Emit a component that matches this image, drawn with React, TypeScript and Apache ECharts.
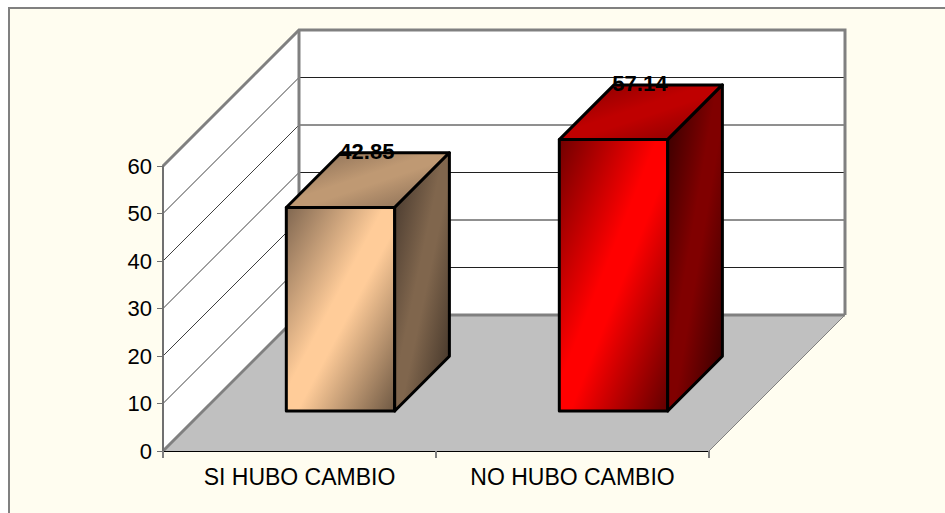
import React, { useEffect, useRef } from "react";
import * as echarts from "echarts";

const categories = ["SI HUBO CAMBIO", "NO HUBO CAMBIO"];
const percentages = [42.85, 57.14];
const valueTicks = [0, 10, 20, 30, 40, 50, 60];

// Light, mid and dark shades per bar
const barShades = [
  { front: ["#7F6650", "#FFCC99", "#FFCC99", "#6E5843"], top: ["#806650", "#BF9973", "#BF9973", "#806650"], side: ["#40332A", "#80664D", "#80664D", "#3A2E24"] },
  { front: ["#700000", "#FF0000", "#FF0000", "#600000"], top: ["#800000", "#BF0000", "#BF0000", "#800000"], side: ["#300000", "#800000", "#800000", "#300000"] },
];

const WALL_DEPTH = 136;
const BAR_INSET = 40;
const BAR_NUDGE_X = 1;
const BAR_DEPTH = 54.7;
const BAR_RATIO = 0.397;

const ramp = (c: string[]) => ({
  type: "linear",
  x: 0,
  y: 0,
  x2: 1,
  y2: 1,
  colorStops: [
    { offset: 0, color: c[0] },
    { offset: 0.45, color: c[1] },
    { offset: 0.55, color: c[2] },
    { offset: 1, color: c[3] },
  ],
});

// Walls, floor and gridlines of the 3D box, placed from the value scale
function renderBox(params: any, api: any) {
  const g = params.coordSys;
  const d = WALL_DEPTH;
  const left = g.x;
  const right = g.x + g.width;
  const top = g.y;
  const bottom = g.y + g.height;
  const wallStroke = { stroke: "#808080", lineWidth: 3 };
  const children: any[] = [
    { type: "polygon", shape: { points: [[left + d, top - d], [right + d, top - d], [right + d, bottom - d], [left + d, bottom - d]] }, style: { fill: "#FFFFFF" } },
    { type: "polygon", shape: { points: [[left, top], [left + d, top - d], [left + d, bottom - d], [left, bottom]] }, style: { fill: "#FFFFFF" } },
    { type: "polygon", shape: { points: [[left, bottom], [left + d, bottom - d], [right + d, bottom - d], [right, bottom]] }, style: { fill: "#C0C0C0" } },
  ];
  valueTicks.forEach((t) => {
    if (t === 0 || t === valueTicks[valueTicks.length - 1]) return;
    const y = api.coord([0, t])[1];
    children.push(
      { type: "line", shape: { x1: left, y1: y, x2: left + d, y2: y - d }, style: { stroke: "#404040", lineWidth: 1 } },
      { type: "line", shape: { x1: left + d, y1: y - d, x2: right + d, y2: y - d }, style: { stroke: "#202020", lineWidth: 1 } },
    );
  });
  children.push(
    { type: "polyline", shape: { points: [[left, top], [left + d, top - d], [right + d, top - d], [right + d, bottom - d]] }, style: { ...wallStroke, fill: "none" } },
    { type: "line", shape: { x1: left + d, y1: top - d, x2: left + d, y2: bottom - d }, style: wallStroke },
    { type: "line", shape: { x1: left + d, y1: bottom - d, x2: right + d, y2: bottom - d }, style: wallStroke },
    { type: "line", shape: { x1: left, y1: bottom, x2: left + d, y2: bottom - d }, style: wallStroke },
    { type: "line", shape: { x1: right, y1: bottom, x2: right + d, y2: bottom - d }, style: { stroke: "#808080", lineWidth: 1 } },
  );
  return { type: "group", children };
}

// One extruded bar: front, top and side faces plus its value label
function renderBar(params: any, api: any) {
  const idx = api.value(0);
  const value = api.value(1);
  const shades = barShades[params.dataIndex];
  const [cx, y1] = api.coord([idx, value]);
  const [, y0] = api.coord([idx, 0]);
  const w = api.size([1, 0])[0] * BAR_RATIO;
  const x = cx - w / 2 + BAR_INSET + BAR_NUDGE_X;
  const yT = y1 - BAR_INSET;
  const yB = y0 - BAR_INSET;
  const d = BAR_DEPTH;
  const edge = { stroke: "#000000", lineWidth: 3, lineJoin: "round" };
  return {
    type: "group",
    children: [
      { type: "polygon", shape: { points: [[x, yT], [x + w, yT], [x + w, yB], [x, yB]] }, style: { ...edge, fill: ramp(shades.front) } },
      { type: "polygon", shape: { points: [[x, yT], [x + d, yT - d], [x + w + d, yT - d], [x + w, yT]] }, style: { ...edge, fill: ramp(shades.top) } },
      { type: "polygon", shape: { points: [[x + w, yT], [x + w + d, yT - d], [x + w + d, yB - d], [x + w, yB]] }, style: { ...edge, fill: ramp(shades.side) } },
      { type: "text", style: { x: x + w / 2 + d / 2 - 1, y: yT - d - 1, text: value.toFixed(2), fill: "#000000", font: 'bold 22px "Liberation Sans"', align: "center", verticalAlign: "middle" } },
    ],
  };
}

export default function App() {
  const ref = useRef<HTMLDivElement>(null);

  useEffect(() => {
    const chart = echarts.init(ref.current!, null, { renderer: "svg" });
    chart.setOption({
      animation: false,
      backgroundColor: "#FFFFFF",
      graphic: [
        { type: "rect", z: -10, shape: { x: 9, y: 8, width: 960, height: 530 }, style: { fill: "#FFFDF0", stroke: "#808080", lineWidth: 2 } },
      ],
      grid: { left: 163, top: 166, width: 546, height: 285 },
      xAxis: {
        type: "category",
        data: categories,
        z: 2,
        axisLine: { lineStyle: { color: "#000000", width: 1 } },
        axisTick: { show: true, alignWithLabel: false, length: 7, lineStyle: { color: "#808080", width: 2 } },
        axisLabel: { color: "#000000", fontFamily: "Liberation Sans", fontSize: 23, margin: 14 },
      },
      yAxis: {
        type: "value",
        min: 0,
        max: 60,
        interval: 10,
        z: 2,
        axisLine: { show: true, lineStyle: { color: "#707070", width: 2 } },
        axisTick: { show: true, length: 6, lineStyle: { color: "#707070", width: 1 } },
        axisLabel: { color: "#000000", fontFamily: "Liberation Sans", fontSize: 22, margin: 11 },
        splitLine: { show: false },
      },
      series: [
        { type: "custom", z: 1, clip: false, silent: true, renderItem: renderBox, data: [[0, 0]], encode: { x: 0, y: 1 } },
        { type: "custom", z: 3, clip: false, renderItem: renderBar, data: percentages.map((v, i) => [i, v]), encode: { x: 0, y: 1 } },
      ],
    });
    return () => chart.dispose();
  }, []);

  return <div ref={ref} style={{ position: "absolute", left: 0, top: 0, width: 945, height: 513 }} />;
}
